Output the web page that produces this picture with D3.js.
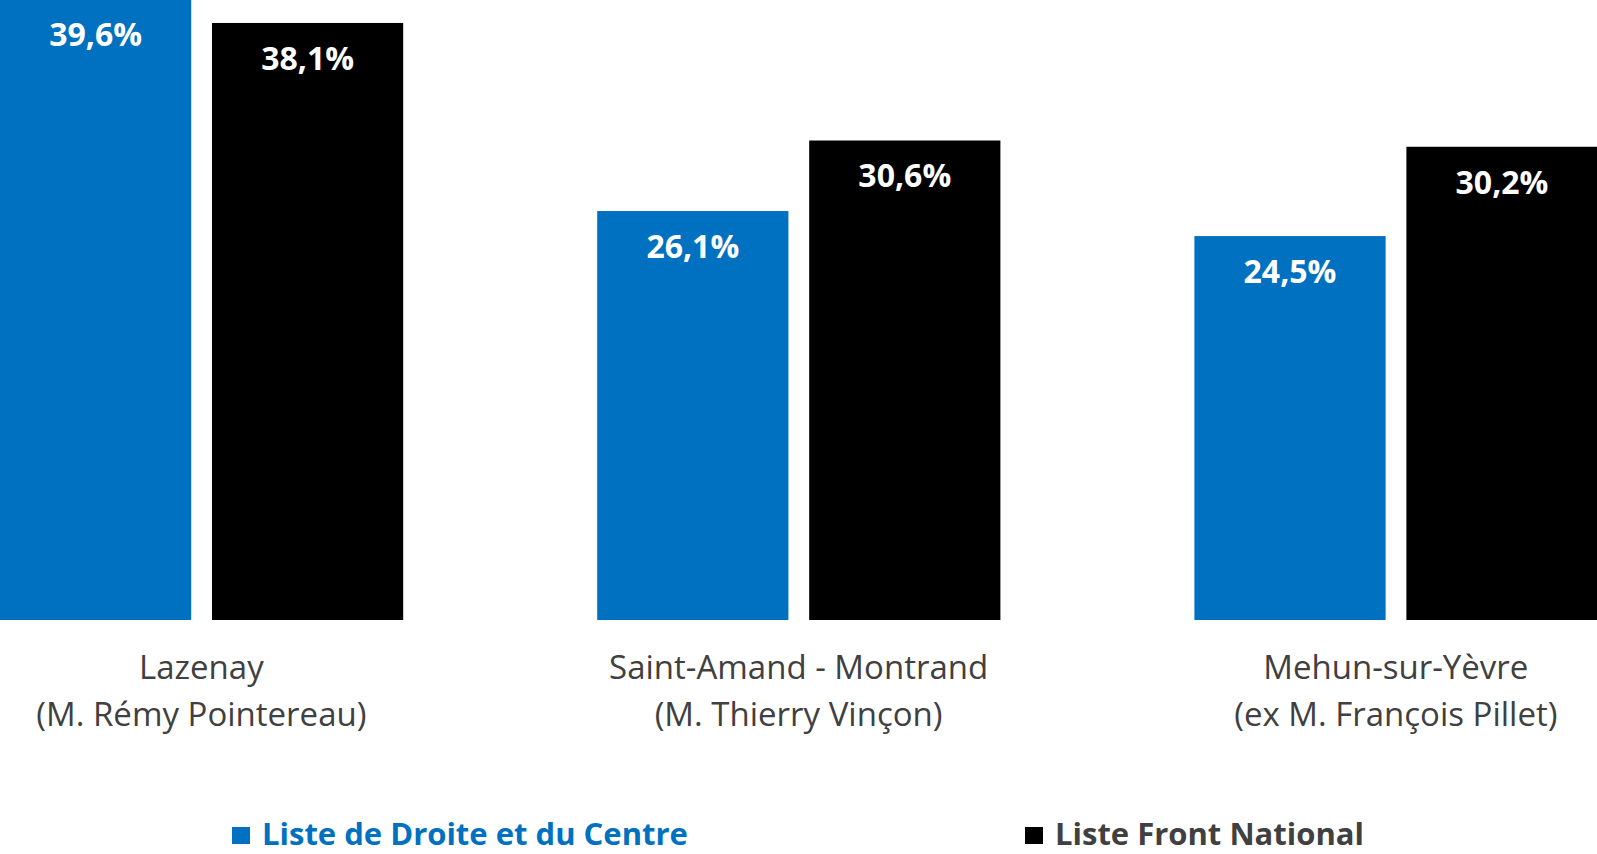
<!DOCTYPE html>
<html>
<head>
<meta charset="utf-8">
<script src="https://cdn.jsdelivr.net/npm/d3@7"></script>
<style>
  html, body { margin: 0; padding: 0; background: #fff; }
  svg { display: block; }
</style>
</head>
<body>
<svg id="chart" width="1597" height="854"></svg>
<script>
// DATA
const categories = ["Lazenay", "Saint-Amand - Montrand", "Mehun-sur-Yèvre"];
const candidates = ["(M. Rémy Pointereau)", "(M. Thierry Vinçon)", "(ex M. François Pillet)"];
const seriesNames = ["Liste de Droite et du Centre", "Liste Front National"];
const droiteCentre = [39.6, 26.1, 24.5];
const frontNational = [38.1, 30.6, 30.2];
const colors = ["#0070C0", "#000000"];

const width = 1597, height = 854;
const baseline = 620;
const font = "'Open Sans', sans-serif";

const data = categories.map((c, i) => ({
    name: c,
    sub: candidates[i],
    values: [droiteCentre[i], frontNational[i]]
}));

const svg = d3.select("svg#chart");

// SCALES
// plot area runs a little past both window edges (the picture is cropped)
const x0 = d3.scaleBand()
    .domain(categories)
    .range([-97.2, 1694.4]);

const x1 = d3.scaleBand()
    .domain(seriesNames)
    .range([97.2, 500.4])
    .paddingInner(0.098);

const y = d3.scaleLinear()
    .domain([0, 40])
    .range([baseline, baseline - 40 * 15.67]);

const fmt = v => d3.format(".1f")(v).replace(".", ",") + "%";

// BARS
const groups = svg.append("g").selectAll("g")
    .data(data)
    .join("g")
    .attr("transform", d => `translate(${x0(d.name)},0)`);

const cells = groups.selectAll("g")
    .data(d => d.values.map((v, i) => ({ series: seriesNames[i], value: v, i })))
    .join("g");

cells.append("rect")
    .attr("x", d => x1(d.series))
    .attr("y", d => y(d.value))
    .attr("width", x1.bandwidth())
    .attr("height", d => y(0) - y(d.value))
    .attr("fill", d => colors[d.i]);

cells.append("text")
    .attr("x", d => x1(d.series) + x1.bandwidth() / 2)
    .attr("y", d => y(d.value) + 47)
    .attr("text-anchor", "middle")
    .attr("fill", "#fff")
    .attr("font-family", font)
    .attr("font-weight", "bold")
    .attr("font-size", 32)
    .text(d => fmt(d.value));

// CATEGORY LABELS
const labels = svg.append("g")
    .attr("font-family", font)
    .attr("font-size", 33)
    .attr("fill", "#404040")
    .attr("text-anchor", "middle");

labels.selectAll("text.cat")
    .data(data)
    .join("text")
    .attr("class", "cat")
    .attr("x", d => x0(d.name) + x0.bandwidth() / 2)
    .attr("y", 679)
    .text(d => d.name);

labels.selectAll("text.sub")
    .data(data)
    .join("text")
    .attr("class", "sub")
    .attr("x", d => x0(d.name) + x0.bandwidth() / 2)
    .attr("y", 726)
    .text(d => d.sub);

// LEGEND
const legendX = [232, 1025];
const legendTextColors = ["#0070C0", "#404040"];
const legend = svg.append("g")
    .selectAll("g")
    .data(seriesNames)
    .join("g")
    .attr("transform", (d, i) => `translate(${legendX[i]},845)`);

legend.append("rect")
    .attr("x", 0)
    .attr("y", -18)
    .attr("width", 18)
    .attr("height", 17)
    .attr("fill", (d, i) => colors[i]);

legend.append("text")
    .attr("x", 30)
    .attr("y", 0)
    .attr("font-family", font)
    .attr("font-weight", "bold")
    .attr("font-size", 31)
    .attr("fill", (d, i) => legendTextColors[i])
    .text(d => d);
</script>
</body>
</html>
